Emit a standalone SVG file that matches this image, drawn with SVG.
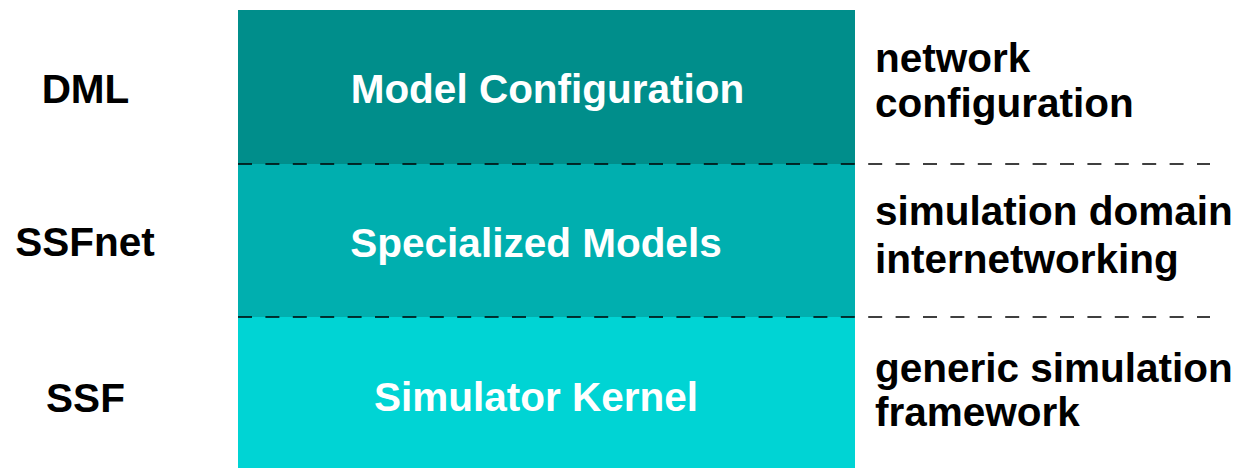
<svg xmlns="http://www.w3.org/2000/svg" width="1243" height="468" viewBox="0 0 1243 468">
<style>
  .lbl { font-family: "Liberation Sans", Arial, sans-serif; font-weight: bold; font-size: 40.5px; fill: #000; }
  .box-text { font-family: "Liberation Sans", Arial, sans-serif; font-weight: bold; font-size: 40.5px; fill: #fff; text-anchor: middle; }
  .side { text-anchor: middle; }
  .sep { stroke: #000; stroke-width: 1.6; stroke-dasharray: 14 13.4; fill: none; }
</style>
<rect width="1243" height="468" fill="#fff"/>
<g id="layer-dml">
  <rect x="238" y="10" width="617" height="154" fill="#008E8B"/>
  <text class="box-text" x="547.5" y="103">Model Configuration</text>
  <text class="lbl side" x="85.5" y="103">DML</text>
  <text class="lbl" x="875" y="72">network</text>
  <text class="lbl" x="875" y="117">configuration</text>
</g>
<g id="layer-ssfnet">
  <rect x="238" y="164" width="617" height="153" fill="#00AFAF"/>
  <text class="box-text" x="536" y="257">Specialized Models</text>
  <text class="lbl side" x="85" y="256">SSFnet</text>
  <text class="lbl" x="875" y="225">simulation domain</text>
  <text class="lbl" x="875" y="273">internetworking</text>
</g>
<g id="layer-ssf">
  <rect x="238" y="317" width="617" height="151" fill="#00D4D4"/>
  <text class="box-text" x="536" y="411">Simulator Kernel</text>
  <text class="lbl side" x="85.5" y="412">SSF</text>
  <text class="lbl" x="875" y="382">generic simulation</text>
  <text class="lbl" x="875" y="426">framework</text>
</g>
<g id="connectors">
  <line class="sep" x1="238" y1="164" x2="1210" y2="164"/>
  <line class="sep" x1="238" y1="317" x2="1210" y2="317"/>
</g>
</svg>
